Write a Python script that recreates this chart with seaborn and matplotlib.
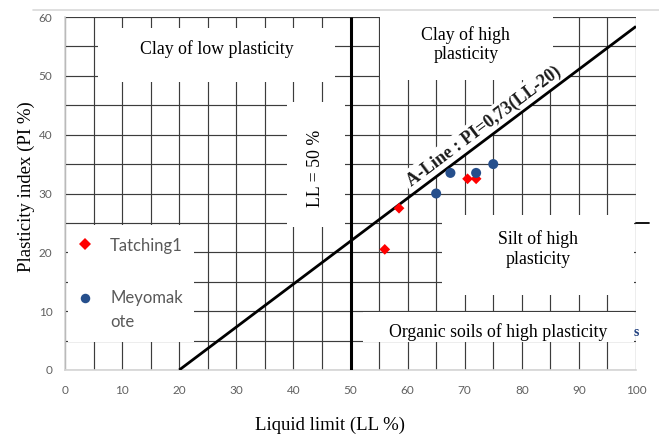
import math
import numpy as np
import pandas as pd
import matplotlib
matplotlib.use("Agg")
import matplotlib.pyplot as plt
from matplotlib.patches import Rectangle
from matplotlib.lines import Line2D
from matplotlib.ticker import MultipleLocator
import seaborn as sns

# Atterberg limits of the two soil samples
tatching_ll = [56.0, 58.5, 70.5, 72.0]
tatching_pi = [20.5, 27.5, 32.5, 32.5]
meyomakote_ll = [65.0, 67.5, 72.0, 75.0]
meyomakote_pi = [30.0, 33.5, 33.5, 35.0]
sample_names = ["Tatching1", "Meyomakote"]
sample_colors = ["#ff0000", "#264f8c"]
sample_markers = ["D", "o"]

# Casagrande A-line: PI = 0.73 (LL - 20)
a_line_ll = np.array([20.0, 100.0])
a_line_pi = 0.73 * (a_line_ll - 20.0)
ll_boundary = 50.0

x_ticks = list(range(0, 101, 10))
y_ticks = list(range(0, 61, 10))

df = pd.DataFrame({
    "LL": tatching_ll + meyomakote_ll,
    "PI": tatching_pi + meyomakote_pi,
    "sample": [sample_names[0]] * len(tatching_ll) + [sample_names[1]] * len(meyomakote_ll),
})

sns.set_theme(style="white")
plt.rcParams["font.family"] = ["DejaVu Sans"]

W, H = 659, 434
fig = plt.figure(figsize=(W / 100, H / 100), dpi=100)
ax = fig.add_axes([65 / W, 1 - 370 / H, 571 / W, 353 / H])
ax.set_xlim(0, 100)
ax.set_ylim(0, 60)

# grid every 5 units
ax.xaxis.set_major_locator(MultipleLocator(10))
ax.xaxis.set_minor_locator(MultipleLocator(5))
ax.yaxis.set_major_locator(MultipleLocator(10))
ax.yaxis.set_minor_locator(MultipleLocator(5))
ax.set_axisbelow(True)
ax.grid(which="both", color="#3c3c3c", linewidth=0.85)
ax.tick_params(which="both", length=0)
for side in ["top", "right"]:
    ax.spines[side].set_visible(False)
for side in ["left", "bottom"]:
    ax.spines[side].set_color("#d4d4d4")
    ax.spines[side].set_linewidth(1.2)
    ax.spines[side].set_zorder(2.5)

# samples
sns.scatterplot(data=df, x="LL", y="PI", hue="sample", style="sample", size="sample",
                palette=dict(zip(sample_names, sample_colors)),
                markers=dict(zip(sample_names, sample_markers)),
                sizes={"Tatching1": 30, "Meyomakote": 52},
                linewidth=0, ax=ax, zorder=4, legend=False)

ax.set_xticks(x_ticks)
ax.set_yticks(y_ticks)
ax.set_xticklabels([str(v) for v in x_ticks], family="Lato", fontsize=8.5, color="#606060")
ax.set_yticklabels([str(v) for v in y_ticks], family="Lato", fontsize=8.5, color="#606060")
ax.tick_params(axis="x", pad=11)
ax.tick_params(axis="y", pad=9)

ax.set_xlabel("Liquid limit (LL %)", family="Liberation Serif", fontsize=13.5, color="black")
ax.set_ylabel("Plasticity index (PI %)", family="Liberation Serif", fontsize=13.5, color="black")
ax.xaxis.set_label_coords((330 - 65) / 571, -(417 - 370) / 353)
ax.yaxis.set_label_coords(-(65 - 35) / 571, (370 - 187) / 353)

# white panels holding the zone names
def panel(x0, x1, y0, y1):
    ax.add_patch(Rectangle((x0, y0), x1 - x0, y1 - y0, facecolor="white",
                           edgecolor="none", zorder=1, clip_on=True))

serif = dict(family="Liberation Serif", fontsize=12.8, color="black", zorder=1.5,
             ha="center", va="center", linespacing=1.2)

panel(5.8, 47.3, 49.0, 58.2)
ax.text(26.6, 54.6, "Clay of low plasticity", **serif)

panel(55.2, 85.5, 49.3, 60.0)
ax.text(70.2, 55.3, "Clay of high\nplasticity", **serif)

panel(38.9, 49.0, 24.3, 45.6)
ax.text(43.8, 34.3, "LL = 50 %", rotation=90, **serif)

panel(66.0, 99.6, 12.7, 26.3)
ax.text(82.8, 20.6, "Silt of high\nplasticity", **serif)

panel(52.2, 99.6, 4.8, 9.9)
ax.text(75.8, 6.4, "Organic soils of high plasticity", **serif)
ax.text(100.0, 6.4, "s", family="Liberation Serif", fontsize=10, fontweight="bold",
        color="#1f3f7f", ha="center", va="center", zorder=1.5, clip_on=False)

# legend panel with sample keys
panel(0.5, 22.6, 4.8, 24.6)
key_font = dict(family="Lato", fontsize=12, color="#595959", ha="left", va="center",
                transform=ax.transAxes, zorder=5)
key_rows = [(0.357, 0.350, "Tatching1"), (0.204, 0.204, "Meyomak")]
for (ym, yt, text), color, marker, ms in zip(key_rows, sample_colors, sample_markers, [8.5, 9.5]):
    ax.add_line(Line2D([0.035], [ym], marker=marker, markersize=ms * 0.72, color=color,
                       markeredgewidth=0, linestyle="none", transform=ax.transAxes, zorder=5))
    ax.text(0.079, yt, text, **key_font)
ax.text(0.079, 0.136, "ote", **key_font)

# classification lines
ax.plot(a_line_ll, a_line_pi, color="black", linewidth=2.0, zorder=3, solid_capstyle="butt")
ax.plot([ll_boundary, ll_boundary], [0, 60], color="black", linewidth=2.2, zorder=3,
        solid_capstyle="butt")

# A-line label, rotated along the line
p1 = ax.transData.transform((a_line_ll[0], a_line_pi[0]))
p2 = ax.transData.transform((a_line_ll[1], a_line_pi[1]))
angle = math.degrees(math.atan2(p2[1] - p1[1], p2[0] - p1[0]))
ax.text(73.4, 41.4, "A-Line : PI=0,73(LL-20)", family="Liberation Serif", fontsize=13,
        fontweight="bold", color="#1a1a1a", rotation=angle, rotation_mode="anchor",
        ha="center", va="center", zorder=2,
        bbox=dict(boxstyle="square,pad=0.2", facecolor="white", edgecolor="none"))

# chart-area edge lines
fig.add_artist(Line2D([33 / W, 1.0], [1 - 10 / H, 1 - 10 / H], color="#d9d9d9", linewidth=1.2))
ax.plot([100, 102.2], [25, 25], color="black", linewidth=1.3, clip_on=False, zorder=3)

fig.savefig("out.png", dpi=100)
